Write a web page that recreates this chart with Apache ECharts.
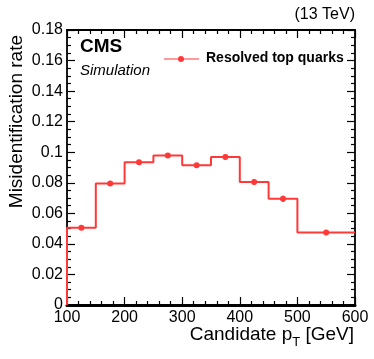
<!DOCTYPE html>
<html>
<head>
<meta charset="utf-8">
<script src="https://cdn.jsdelivr.net/npm/echarts@6/dist/echarts.min.js"></script>
<style>
  html, body { margin: 0; padding: 0; background: #fff; }
  #chart { width: 374px; height: 359px; }
</style>
</head>
<body>
<div id="chart"></div>
<script>
// bin edges in GeV and misidentification rate per bin
var binEdges = [100, 150, 200, 250, 300, 350, 400, 450, 500, 600];
var rates = [0.0505, 0.0795, 0.0935, 0.0978, 0.0915, 0.0968, 0.0805, 0.0695, 0.0475];
var rateErrors = [0.0008, 0.0008, 0.0012, 0.0013, 0.0013, 0.0015, 0.0017, 0.002, 0.0012];
var yTicks = [0, 0.02, 0.04, 0.06, 0.08, 0.1, 0.12, 0.14, 0.16, 0.18];

var red = '#ff3838';
var font = 'Liberation Sans';

// step outline of the histogram
var stepData = [[binEdges[0], 0]];
for (var i = 0; i < rates.length; i++) {
    stepData.push([binEdges[i], rates[i]]);
}
stepData.push([binEdges[binEdges.length - 1], rates[rates.length - 1]]);

// points at bin centres with errors
var pointData = rates.map(function (v, i) {
    return [(binEdges[i] + binEdges[i + 1]) / 2, v, rateErrors[i]];
});

var chart = echarts.init(document.getElementById('chart'));

function frameAxis(width, minorSplit) {
    return {
        axisLine: { show: true, onZero: false, lineStyle: { color: '#000', width: width } },
        axisTick: { show: true, inside: true, length: 8, lineStyle: { color: '#000', width: 1.2 } },
        minorTick: { show: true, splitNumber: minorSplit, length: 4, lineStyle: { color: '#000', width: 1.2 } },
        splitLine: { show: false }
    };
}

chart.setOption({
    animation: false,
    grid: { left: 67, right: 19, top: 30, bottom: 54 },
    xAxis: [
        Object.assign({
            type: 'value', min: 100, max: 600, interval: 100,
            axisLabel: { color: '#000', fontFamily: font, fontSize: 16, margin: 5 }
        }, frameAxis(3, 5)),
        Object.assign({
            type: 'value', min: 100, max: 600, interval: 100, position: 'top',
            axisLabel: { show: false }
        }, frameAxis(1.8, 5))
    ],
    yAxis: [
        Object.assign({
            type: 'value', min: 0, max: 0.18, interval: 0.02,
            axisLabel: {
                color: '#000', fontFamily: font, fontSize: 16, margin: 4,
                formatter: function (v) {
                    var t = yTicks.find(function (k) { return Math.abs(k - v) < 1e-9; });
                    return t === undefined ? '' : String(t);
                }
            }
        }, frameAxis(1.8, 4)),
        Object.assign({
            type: 'value', min: 0, max: 0.18, interval: 0.02, position: 'right',
            axisLabel: { show: false }
        }, frameAxis(1.8, 4))
    ],
    series: [
        {
            name: 'Resolved top quarks',
            type: 'line',
            step: 'end',
            data: stepData,
            symbol: 'none',
            lineStyle: { color: red, width: 2 },
            z: 3
        },
        {
            type: 'custom',
            data: pointData,
            renderItem: function (params, api) {
                var x = api.value(0), y = api.value(1), e = api.value(2);
                var c = api.coord([x, y]);
                var lo = api.coord([x, y - e]);
                var hi = api.coord([x, y + e]);
                return {
                    type: 'group',
                    children: [
                        { type: 'line', shape: { x1: c[0], y1: lo[1], x2: c[0], y2: hi[1] },
                          style: { stroke: red, lineWidth: 2 } },
                        { type: 'circle', shape: { cx: c[0], cy: c[1], r: 3 },
                          style: { fill: red } }
                    ]
                };
            },
            z: 4
        }
    ],
    graphic: [
        { type: 'text', left: 80, top: 37,
          style: { text: 'CMS', font: 'bold 19px "Liberation Sans"', fill: '#000' } },
        { type: 'text', left: 80, top: 63,
          style: { text: 'Simulation', font: 'italic 15px "Liberation Sans"', fill: '#000' } },
        { type: 'text', right: 19, top: 7,
          style: { text: '(13 TeV)', font: '16px "Liberation Sans"', fill: '#000' } },
        { type: 'line', shape: { x1: 164, y1: 59, x2: 199, y2: 59 },
          style: { stroke: '#ff9a9a', lineWidth: 2 } },
        { type: 'circle', shape: { cx: 181, cy: 59, r: 3 }, style: { fill: red } },
        { type: 'text', left: 206, top: 51,
          style: { text: 'Resolved top quarks', font: 'bold 14px "Liberation Sans"', fill: '#000' } },
        { type: 'text', x: 17, y: 35, rotation: Math.PI / 2,
          style: { text: 'Misidentification rate', font: '19px "Liberation Sans"', fill: '#000',
                   align: 'right', verticalAlign: 'middle' } },
        { type: 'text', right: 20, top: 325,
          style: {
              text: '{n|Candidate p}{s|T}{n| [GeV]}',
              rich: {
                  n: { fontFamily: font, fontSize: 19, fill: '#000' },
                  s: { fontFamily: font, fontSize: 13, fill: '#000', padding: [16, 0, 0, 0] }
              }
          } }
    ]
});
</script>
</body>
</html>
